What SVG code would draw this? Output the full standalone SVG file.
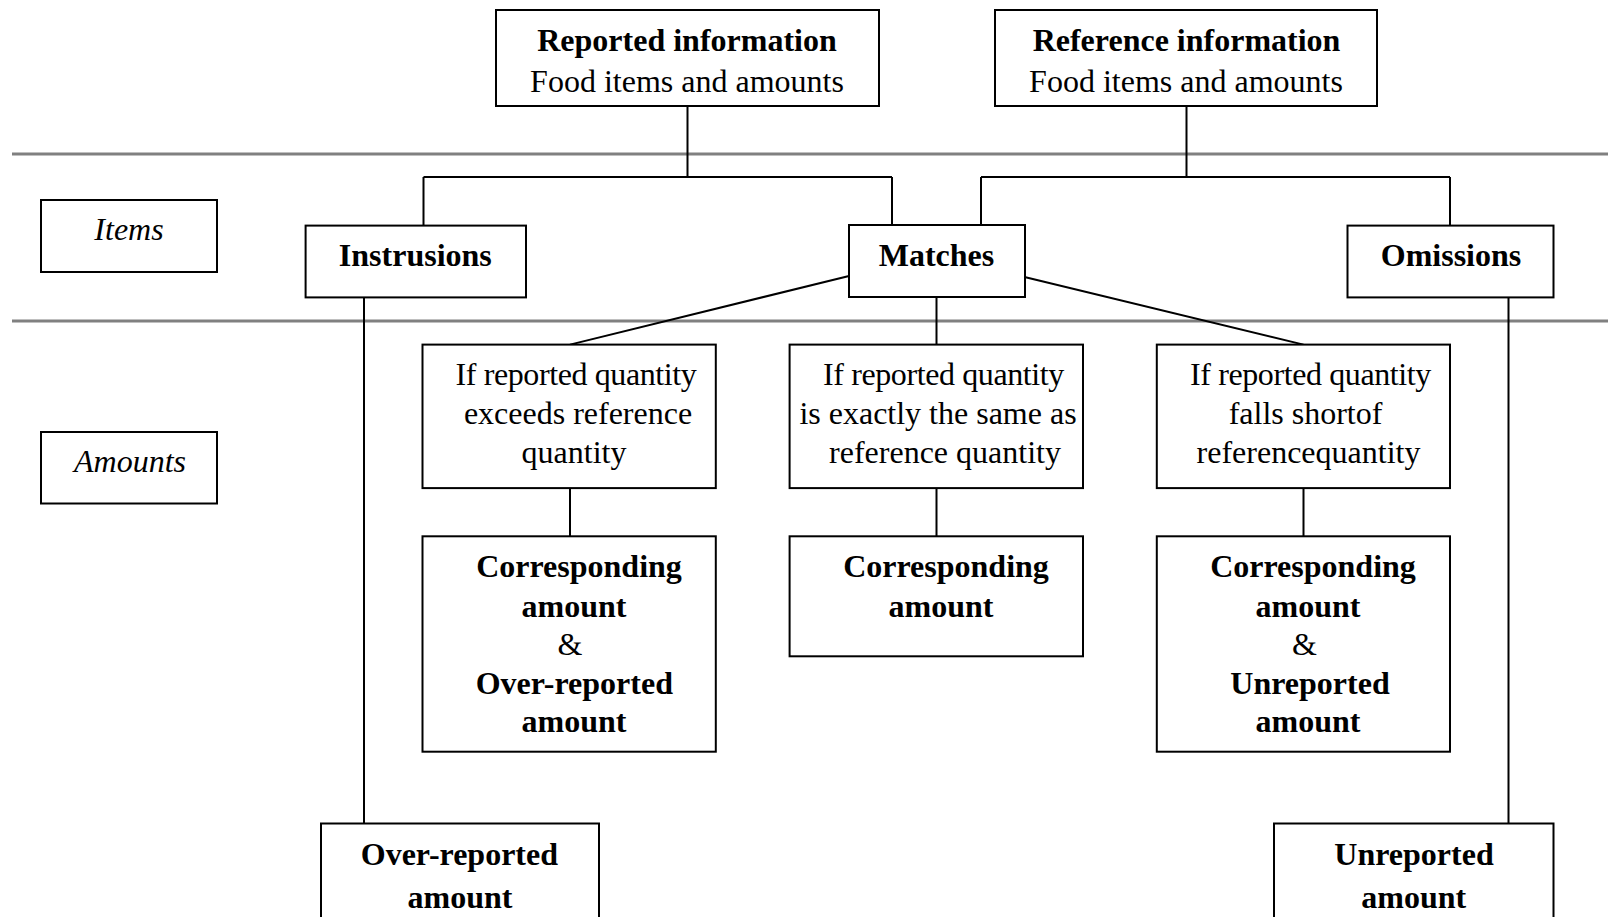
<svg xmlns="http://www.w3.org/2000/svg" width="1608" height="917" viewBox="0 0 1608 917">
<style>
.box{fill:#fff;stroke:#000;stroke-width:2}
.sep{stroke:#808080;stroke-width:3}
.con{stroke:#000;stroke-width:2;fill:none}
text{font-family:"Liberation Serif","Times New Roman",serif;font-size:32px;fill:#000;text-anchor:middle}
.b{font-weight:bold}
.i{font-style:italic}
.n{letter-spacing:-0.4px}
</style>
<rect width="1608" height="917" fill="#fff"/>
<g id="separators">
<line class="sep" x1="12" y1="154" x2="1608" y2="154"/>
<line class="sep" x1="12" y1="321" x2="1608" y2="321"/>
</g>
<g id="connectors">
<path class="con" d="M687.5,106 V177 M423.5,177 H892 M423.5,177 V225.6 M892,177 V225"/>
<path class="con" d="M1186.5,106 V177 M981,177 H1450 M981,177 V225 M1450,177 V225.6"/>
<path class="con" d="M364,297.4 V823.5"/>
<path class="con" d="M1508.5,297.4 V823.5"/>
<path class="con" d="M936.5,297 V344.6"/>
<path class="con" d="M849,276 L570,344.6"/>
<path class="con" d="M1024.5,277 L1303.5,344.6"/>
<path class="con" d="M570,488 V536.3 M936.5,488 V536.3 M1303.5,488 V536.3"/>
</g>
<g id="reported">
<rect class="box" x="496" y="10" width="383" height="96"/>
<text class="b" x="687" y="51">Reported information</text>
<text x="687" y="91.5">Food items and amounts</text>
</g>
<g id="reference">
<rect class="box" x="995" y="10" width="382" height="96"/>
<text class="b" x="1186.5" y="51">Reference information</text>
<text x="1186" y="91.5">Food items and amounts</text>
</g>
<g id="items-label">
<rect class="box" x="41" y="200" width="176" height="72"/>
<text class="i" x="129" y="240">Items</text>
</g>
<g id="amounts-label">
<rect class="box" x="41" y="432" width="176" height="71.5"/>
<text class="i" x="130" y="472">Amounts</text>
</g>
<g id="instrusions">
<rect class="box" x="305.6" y="225.6" width="220.4" height="71.8"/>
<text class="b" x="415.3" y="266">Instrusions</text>
</g>
<g id="matches">
<rect class="box" x="849" y="225" width="176" height="72"/>
<text class="b" x="936.5" y="266">Matches</text>
</g>
<g id="omissions">
<rect class="box" x="1347.5" y="225.6" width="206" height="71.8"/>
<text class="b" x="1451" y="266">Omissions</text>
</g>
<g id="cond-exceeds">
<rect class="box" x="422.5" y="344.6" width="293.3" height="143.5"/>
<text class="n" x="576" y="385">If reported quantity</text>
<text x="578" y="423.5">exceeds reference</text>
<text x="574" y="462.5">quantity</text>
</g>
<g id="cond-same">
<rect class="box" x="789.6" y="344.6" width="293.4" height="143.5"/>
<text class="n" x="943.5" y="385">If reported quantity</text>
<text x="938" y="423.5">is exactly the same as</text>
<text x="945" y="462.5">reference quantity</text>
</g>
<g id="cond-short">
<rect class="box" x="1156.8" y="344.6" width="293.2" height="143.5"/>
<text class="n" x="1310.5" y="385">If reported quantity</text>
<text x="1305.5" y="423.5">falls shortof</text>
<text x="1308.5" y="462.5">referencequantity</text>
</g>
<g id="result-over">
<rect class="box" x="422.5" y="536.3" width="293.3" height="215.4"/>
<text class="b" x="579" y="577">Corresponding</text>
<text class="b" x="574" y="616.5">amount</text>
<text x="570" y="655">&amp;</text>
<text class="b" x="574.3" y="694">Over-reported</text>
<text class="b" x="574" y="731.5">amount</text>
</g>
<g id="result-same">
<rect class="box" x="789.6" y="536.3" width="293.4" height="120"/>
<text class="b" x="946" y="577">Corresponding</text>
<text class="b" x="941" y="616.5">amount</text>
</g>
<g id="result-under">
<rect class="box" x="1156.8" y="536.3" width="293.2" height="215.4"/>
<text class="b" x="1313" y="577">Corresponding</text>
<text class="b" x="1308" y="616.5">amount</text>
<text x="1304.5" y="655">&amp;</text>
<text class="b" x="1310" y="694">Unreported</text>
<text class="b" x="1308" y="731.5">amount</text>
</g>
<g id="over-reported">
<rect class="box" x="321" y="823.5" width="278" height="110"/>
<text class="b" x="459.4" y="864.5">Over-reported</text>
<text class="b" x="460" y="908">amount</text>
</g>
<g id="unreported">
<rect class="box" x="1274" y="823.5" width="279.5" height="110"/>
<text class="b" x="1414" y="864.5">Unreported</text>
<text class="b" x="1413.7" y="908">amount</text>
</g>
</svg>
